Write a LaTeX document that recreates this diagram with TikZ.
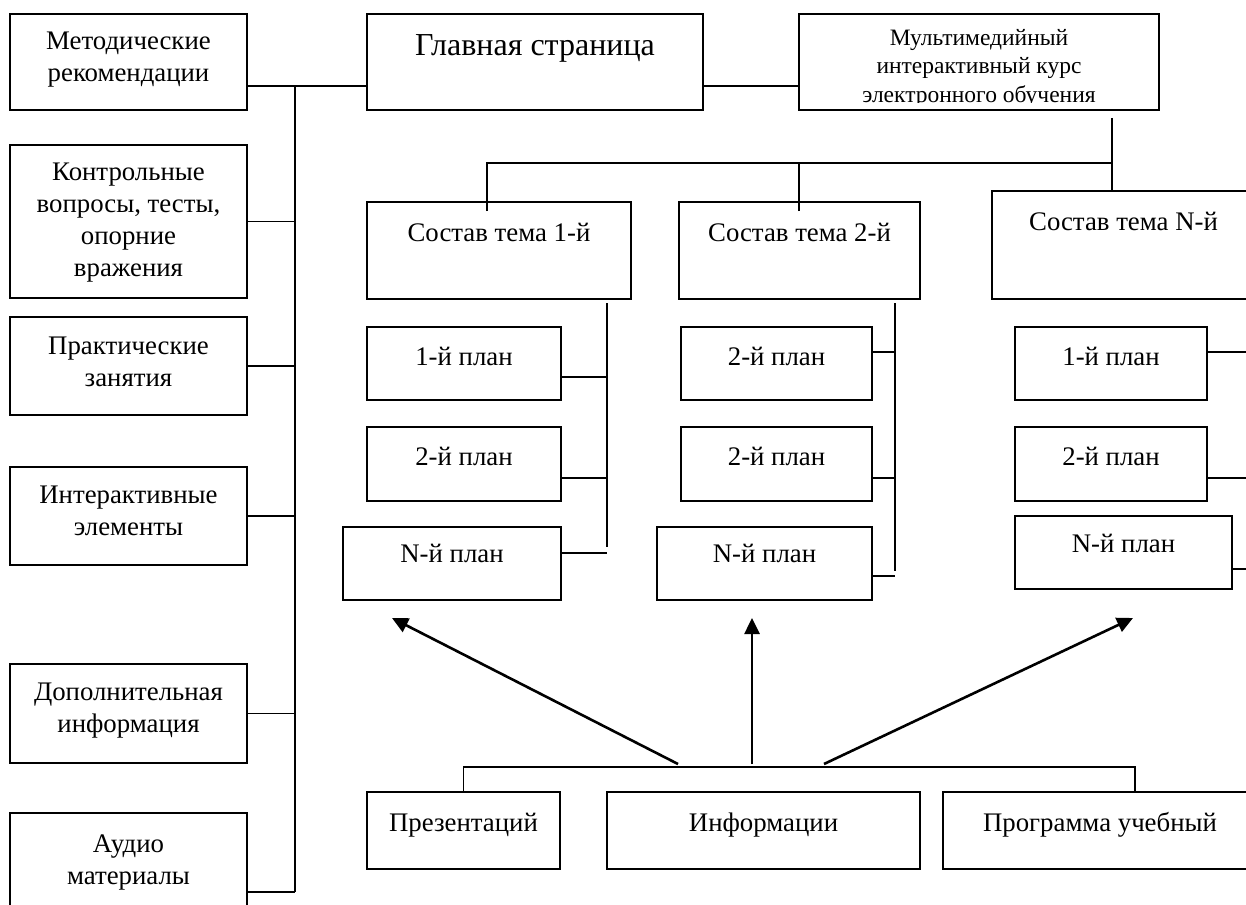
\documentclass[tikz,border=0pt]{standalone}
\usepackage{fontspec}
\setmainfont{Liberation Serif}
\usetikzlibrary{arrows.meta,calc,positioning}

\begin{document}
\begin{tikzpicture}[x=1pt, y=-1pt,
  box/.style={draw, line width=1.8pt, inner sep=0pt},
  lbl/.style={anchor=north, inner sep=0pt, align=center, font=\fontsize{26.8}{32}\selectfont},
  wire/.style={line width=1.8pt},
  arr/.style={line width=2.6pt, -{Triangle[length=16pt,width=15pt]}}]
  \useasboundingbox (0,0) rectangle (1246,904);
  \clip (0,0) rectangle (1246,904);

  % left column
  \node[box, minimum width=237pt, minimum height=96pt, label={[lbl, yshift=-19pt]north:{Методические\\рекомендации}}] (metod) at (128.5,62) {};
  \node[box, minimum width=237pt, minimum height=153pt, label={[lbl, yshift=-19pt]north:{Контрольные\\вопросы, тесты,\\опорние\\вражения}}] (kontrol) at (128.5,221.5) {};
  \node[box, minimum width=237pt, minimum height=98pt, label={[lbl, yshift=-21pt]north:{Практические\\занятия}}] (prakt) at (128.5,366) {};
  \node[box, minimum width=237pt, minimum height=98pt, label={[lbl, yshift=-20pt]north:{Интерактивные\\элементы}}] (inter) at (128.5,516) {};
  \node[box, minimum width=237pt, minimum height=99pt, label={[lbl, yshift=-20pt]north:{Дополнительная\\информация}}] (dopol) at (128.5,713.5) {};
  \node[box, minimum width=237pt, minimum height=158pt, label={[lbl, yshift=-22pt]north:{Аудио\\материалы}}] (audio) at (128.5,892) {};

  % top row
  \node[box, minimum width=336pt, minimum height=96pt, label={[lbl, font=\fontsize{32}{38}\selectfont, yshift=-21pt]north:{Главная страница}}] (glav) at (535,62) {};
  \node[box, minimum width=360pt, minimum height=96pt] (mult) at (979,62) {};
  \begin{scope}
    \clip (mult.north west) rectangle (mult.east |- 0,103);
    \node[lbl, font=\fontsize{23.5}{28.5}\selectfont, below=16pt of mult.north] (multT) {Мультимедийный\\интерактивный курс\\электронного обучения};
  \end{scope}

  % topics
  \node[box, minimum width=264pt, minimum height=97pt, label={[lbl, yshift=-22pt]north:{Состав тема 1-й}}] (sost1) at (499,250.5) {};
  \node[box, minimum width=241pt, minimum height=97pt, label={[lbl, yshift=-22pt]north:{Состав тема 2-й}}] (sost2) at (799.5,250.5) {};
  \node[box, minimum width=263pt, minimum height=108pt, label={[lbl, yshift=-22pt]north:{Состав тема N-й}}] (sostN) at (1123.5,245) {};

  % plans
  \node[box, minimum width=194pt, minimum height=73pt, label={[lbl, yshift=-21pt]north:{1-й план}}] (p11) at (464,363.5) {};
  \node[box, minimum width=194pt, minimum height=74pt, label={[lbl, yshift=-21pt]north:{2-й план}}] (p12) at (464,464) {};
  \node[box, minimum width=218pt, minimum height=73pt, label={[lbl, yshift=-18pt]north:{N-й план}}] (p13) at (452,563.5) {};
  \node[box, minimum width=191pt, minimum height=73pt, label={[lbl, yshift=-21pt]north:{2-й план}}] (p21) at (776.5,363.5) {};
  \node[box, minimum width=191pt, minimum height=74pt, label={[lbl, yshift=-21pt]north:{2-й план}}] (p22) at (776.5,464) {};
  \node[box, minimum width=215pt, minimum height=73pt, label={[lbl, yshift=-18pt]north:{N-й план}}] (p23) at (764.5,563.5) {};
  \node[box, minimum width=192pt, minimum height=73pt, label={[lbl, yshift=-21pt]north:{1-й план}}] (p31) at (1111,363.5) {};
  \node[box, minimum width=192pt, minimum height=74pt, label={[lbl, yshift=-21pt]north:{2-й план}}] (p32) at (1111,464) {};
  \node[box, minimum width=217pt, minimum height=73pt, label={[lbl, yshift=-19pt]north:{N-й план}}] (p33) at (1123.5,552.5) {};

  % sources
  \node[box, minimum width=193pt, minimum height=77pt, label={[lbl, yshift=-22pt]north:{Презентаций}}] (pres) at (463.5,830.5) {};
  \node[box, minimum width=313pt, minimum height=77pt, label={[lbl, yshift=-22pt]north:{Информации}}] (info) at (763.5,830.5) {};
  \node[box, minimum width=314pt, minimum height=77pt, label={[lbl, yshift=-21pt]north:{Программа учебный}}] (prog) at (1100,830.5) {};

  % spine on the left
  \coordinate (spT) at (295,86);
  \coordinate (spB) at (295,892);
  \draw[wire] (spT) -- (spB);
  \draw[wire] (metod.east |- spT) -- (glav.west |- spT);
  \draw[wire] (glav.east |- spT) -- (mult.west |- spT);
  \foreach \n in {kontrol, prakt, inter, dopol}
    \draw[wire] (\n.east) -- (\n.east -| spT);
  \draw[wire] (audio.east |- spB) -- (spB);

  % course to topics
  \coordinate (mD) at (1112,118);
  \coordinate (busT) at (1112,163);
  \coordinate (d1) at (487,211);
  \coordinate (d2) at (799,211);
  \draw[wire] (mD) -- (mD |- sostN.north);
  \draw[wire] (d1) -- (d1 |- busT) -- (busT);
  \draw[wire] (d2) -- (d2 |- busT);

  % topics to plans
  \coordinate (t1a) at (607,303);
  \coordinate (t1b) at (607,547);
  \coordinate (t2a) at (895,303);
  \coordinate (t2b) at (895,571);
  \coordinate (t3) at (1256,303);
  \draw[wire] (t1a) -- (t1b);
  \draw[wire] (t2a) -- (t2b);
  \draw[wire] ([yshift=-13.5pt]p11.east) -- ([yshift=-13.5pt]p11.east -| t1a);
  \draw[wire] ([yshift=-14pt]p12.east) -- ([yshift=-14pt]p12.east -| t1a);
  \draw[wire] ([yshift=10.5pt]p13.east) -- ([yshift=10.5pt]p13.east -| t1a);
  \draw[wire] ([yshift=11.5pt]p21.east) -- ([yshift=11.5pt]p21.east -| t2a);
  \draw[wire] ([yshift=-14pt]p22.east) -- ([yshift=-14pt]p22.east -| t2a);
  \draw[wire] ([yshift=-12.5pt]p23.east) -- ([yshift=-12.5pt]p23.east -| t2a);
  \draw[wire] ([yshift=11.5pt]p31.east) -- ([yshift=11.5pt]p31.east -| t3);
  \draw[wire] ([yshift=-14pt]p32.east) -- ([yshift=-14pt]p32.east -| t3);
  \draw[wire] ([yshift=-16.5pt]p33.east) -- ([yshift=-16.5pt]p33.east -| t3);

  % sources bus and arrows
  \coordinate (bus) at (1135,767);
  \draw[wire] (pres.north) -- (pres.north |- bus) -- (bus) -- (bus |- prog.north);
  \coordinate (a1) at (678,764);
  \coordinate (a2) at (752,764);
  \coordinate (a3) at (824,764);
  \coordinate (h1) at (392,618);
  \coordinate (h2) at (752,618);
  \coordinate (h3) at (1133,618);
  \draw[arr] (a1) -- (h1);
  \draw[arr] (a2) -- (h2);
  \draw[arr] (a3) -- (h3);
\end{tikzpicture}
\end{document}
